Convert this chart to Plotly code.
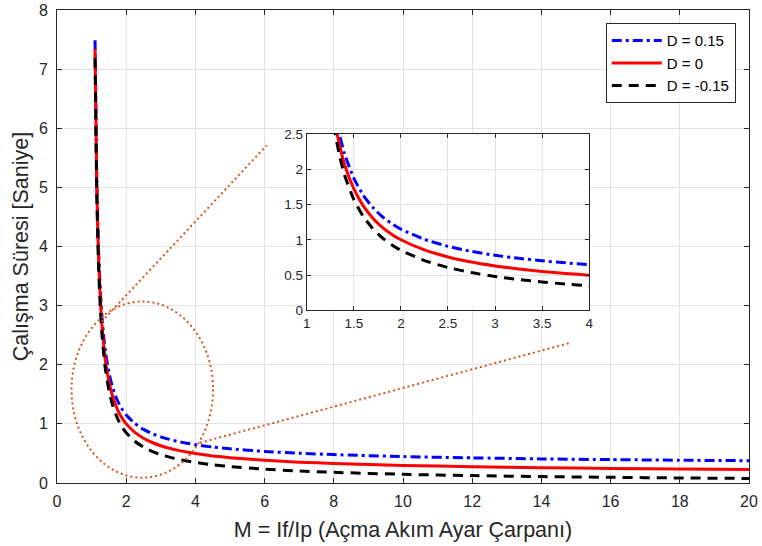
import plotly.graph_objects as go

# Current multiple M = If/Ip
M = [1.1, 1.15, 1.2, 1.25, 1.3, 1.35, 1.4, 1.5, 1.6, 1.7, 1.8, 1.9, 2.0, 2.25, 2.5,
     2.75, 3.0, 3.25, 3.5, 3.75, 4.0, 4.5, 5.0, 6.0, 7.0, 8.0, 10.0, 12.0, 14.0, 16.0, 18.0, 20.0]
# Operating time (s), D = 0
T_D0 = [7.34, 5.00, 3.83, 3.13, 2.66, 2.33, 2.07, 1.72, 1.48, 1.31, 1.18, 1.08, 1.00, 0.856, 0.757,
        0.685, 0.630, 0.587, 0.552, 0.523, 0.498, 0.458, 0.428, 0.384, 0.353, 0.330, 0.297, 0.275,
        0.258, 0.246, 0.235, 0.227]
# D = 0.15
T_Dp = [7.49, 5.15, 3.98, 3.28, 2.81, 2.48, 2.22, 1.87, 1.63, 1.46, 1.33, 1.23, 1.15, 1.006, 0.907,
        0.835, 0.780, 0.737, 0.702, 0.673, 0.648, 0.608, 0.578, 0.534, 0.503, 0.480, 0.447, 0.425,
        0.408, 0.396, 0.385, 0.377]
# D = -0.15
T_Dm = [7.19, 4.85, 3.68, 2.98, 2.51, 2.18, 1.92, 1.57, 1.33, 1.16, 1.03, 0.93, 0.85, 0.706, 0.607,
        0.535, 0.480, 0.437, 0.402, 0.373, 0.348, 0.308, 0.278, 0.234, 0.203, 0.180, 0.147, 0.125,
        0.108, 0.096, 0.085, 0.077]

series_names = ["D = 0.15", "D = 0", "D = -0.15"]
series_vals = [T_Dp, T_D0, T_Dm]
series_colors = ["#0000FF", "#FF0000", "#000000"]
series_dash = ["10px,4px,3px,4px", "solid", "10px,7px"]

# zoom highlight (data units of main axes)
ellipse_x = [0.42, 4.51]
ellipse_y = [0.09, 3.07]
line1_x = [1.29, 6.06]
line1_y = [2.73, 5.71]
line2_x = [4.13, 14.83]
line2_y = [0.68, 2.37]

main_xticks = [0, 2, 4, 6, 8, 10, 12, 14, 16, 18, 20]
main_yticks = [0, 1, 2, 3, 4, 5, 6, 7, 8]
inset_xticks = [1, 1.5, 2, 2.5, 3, 3.5, 4]
inset_yticks = [0, 0.5, 1, 1.5, 2, 2.5]

ORANGE = "#D95319"
AX = "#262626"
GRID = "#e3e3e3"
FONT = "Liberation Sans, Arial, sans-serif"

fig = go.Figure()

for name, vals, col, dash in zip(series_names, series_vals, series_colors, series_dash):
    fig.add_trace(go.Scatter(x=M, y=vals, mode="lines", name=name,
                             line=dict(color=col, width=3, dash=dash, shape="spline", smoothing=0.5),
                             xaxis="x", yaxis="y"))

for name, vals, col, dash in zip(series_names, series_vals, series_colors, series_dash):
    fig.add_trace(go.Scatter(x=M, y=vals, mode="lines", name=name, showlegend=False,
                             line=dict(color=col, width=3, dash=dash, shape="spline", smoothing=0.5),
                             xaxis="x2", yaxis="y2"))

fig.add_trace(go.Scatter(x=line1_x, y=line1_y, mode="lines", showlegend=False,
                         line=dict(color=ORANGE, width=2, dash="2px,3px"), xaxis="x", yaxis="y"))
fig.add_trace(go.Scatter(x=line2_x, y=line2_y, mode="lines", showlegend=False,
                         line=dict(color=ORANGE, width=2, dash="2px,3px"), xaxis="x", yaxis="y"))

shapes = [
    dict(type="circle", xref="x", yref="y", x0=ellipse_x[0], x1=ellipse_x[1],
         y0=ellipse_y[0], y1=ellipse_y[1], line=dict(color=ORANGE, width=2, dash="2px,3px"),
         layer="above"),
    dict(type="rect", xref="x2 domain", yref="y2 domain", x0=0, x1=1, y0=0, y1=1,
         fillcolor="white", line=dict(width=0), layer="below"),
]

axis_common = dict(showline=True, linecolor=AX, linewidth=1, mirror="ticks",
                   ticks="inside", tickcolor=AX, showgrid=True, gridcolor=GRID,
                   zeroline=False, automargin=False)

main_tf = dict(family=FONT, size=16, color=AX)
inset_tf = dict(family=FONT, size=13.5, color=AX)

fig.update_layout(
    width=762, height=546,
    margin=dict(l=57, r=13, t=10, b=63),
    paper_bgcolor="white", plot_bgcolor="white",
    font=dict(family=FONT, color=AX),
    xaxis=dict(domain=[0, 1], range=[0, 20], tickvals=main_xticks, ticklen=5,
               tickfont=main_tf, ticklabelstandoff=4,
               title=dict(text="M = If/Ip (Açma Akım Ayar Çarpanı)", font=dict(size=21.5, color=AX), standoff=12),
               **axis_common),
    yaxis=dict(domain=[0, 1], range=[0, 8], tickvals=main_yticks, ticklen=5,
               tickfont=main_tf, ticklabelstandoff=5,
               title=dict(text="Çalışma Süresi [Saniye]", font=dict(size=21.5, color=AX), standoff=4),
               **axis_common),
    xaxis2=dict(domain=[0.361, 0.769], anchor="y2", range=[1, 4], tickvals=inset_xticks, ticklen=4,
                tickfont=inset_tf, **axis_common),
    yaxis2=dict(domain=[0.365, 0.738], anchor="x2", range=[0, 2.5], tickvals=inset_yticks, ticklen=4,
                tickfont=inset_tf, **axis_common),
    legend=dict(x=0.793, y=0.972, xanchor="left", yanchor="top", bgcolor="white",
                bordercolor=AX, borderwidth=1, font=dict(family=FONT, size=15, color="#000000"),
                itemwidth=50, tracegroupgap=0),
    shapes=shapes,
    showlegend=True,
)

fig.write_html("out.html", config={"displayModeBar": False},
               post_script="document.body.style.margin='0';document.body.style.overflow='hidden';")
